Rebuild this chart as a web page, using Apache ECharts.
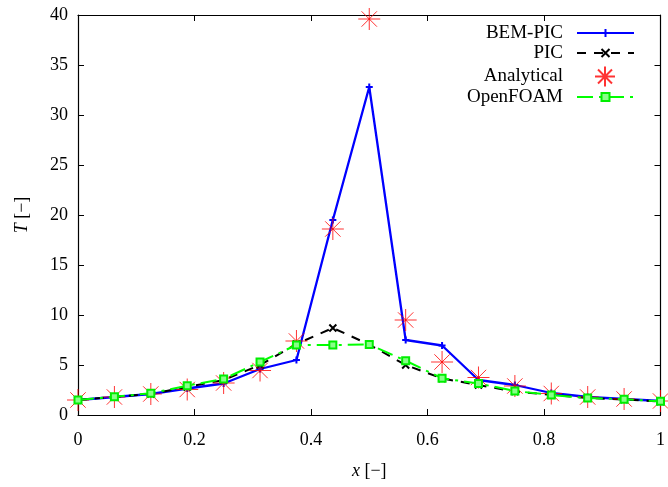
<!DOCTYPE html>
<html>
<head>
<meta charset="utf-8">
<script src="https://cdn.jsdelivr.net/npm/echarts@6/dist/echarts.min.js"></script>
<style>html,body{margin:0;padding:0;background:#fff}#c{width:668px;height:487px}</style>
</head>
<body>
<div id="c"></div>
<script>
var xValues = [0, 0.0625, 0.125, 0.1875, 0.25, 0.3125, 0.375, 0.4375, 0.5, 0.5625, 0.625, 0.6875, 0.75, 0.8125, 0.875, 0.9375, 1.0];
var bemPic = [1.5, 1.8, 2.1, 2.65, 3.15, 4.6, 5.5, 19.5, 32.8, 7.5, 6.95, 3.5, 3.0, 2.2, 1.8, 1.6, 1.4];
var pic = [1.5, 1.8, 2.1, 2.8, 3.5, 5.0, 7.1, 8.7, 7.05, 5.0, 3.65, 3.0, 2.35, 2.0, 1.7, 1.55, 1.35];
var analytical = [1.5, 1.8, 2.1, 2.55, 3.2, 4.45, 7.4, 18.6, 39.6, 9.5, 5.3, 3.75, 2.9, 2.15, 1.8, 1.6, 1.4];
var openFoam = [1.5, 1.83, 2.17, 2.93, 3.6, 5.3, 7.0, 7.0, 7.05, 5.43, 3.67, 3.15, 2.4, 2.0, 1.7, 1.57, 1.37];
var xTicks = [0, 0.2, 0.4, 0.6, 0.8, 1];
var yTicks = [0, 5, 10, 15, 20, 25, 30, 35, 40];
var seriesNames = ['BEM-PIC', 'PIC', 'Analytical', 'OpenFOAM'];

function pairs(ys) { return xValues.map(function (x, i) { return [x, ys[i]]; }); }

var FONT = 'Liberation Serif';
var chart = echarts.init(document.getElementById('c'));

function axisBase(extra) {
  var a = {
    type: 'value',
    axisLine: { show: true, onZero: false, lineStyle: { color: '#000', width: 1.2 } },
    axisTick: { show: true, inside: true, length: 6, lineStyle: { color: '#000', width: 1 } },
    splitLine: { show: false },
    axisLabel: { color: '#000', fontFamily: FONT, fontSize: 18 }
  };
  for (var k in extra) a[k] = extra[k];
  return a;
}

var legendCenters = [33, 53, 75.5, 97];
var legends = seriesNames.map(function (n, i) {
  var star = (i === 2);
  return {
    orient: 'vertical',
    align: 'right',
    right: star ? 52 : 33,
    top: legendCenters[i] - 10,
    padding: 0,
    itemGap: 0,
    itemWidth: star ? 20 : 57,
    itemHeight: star ? 20 : 10,
    textStyle: { color: '#000', fontFamily: FONT, fontSize: 19, lineHeight: 20, padding: [0, star ? 27 : 9, 0, 0] },
    data: [n]
  };
});

var option = {
  animation: false,
  backgroundColor: '#fff',
  textStyle: { fontFamily: FONT },
  grid: { left: 78, right: 7, top: 15, bottom: 72, containLabel: false },
  xAxis: [
    axisBase({
      min: 0, max: 1, interval: 0.2, position: 'bottom',
      axisLabel: { color: '#000', fontFamily: FONT, fontSize: 18, margin: 16,
        formatter: function (v) { return xTicks.indexOf(+v.toFixed(2)) >= 0 ? String(+v.toFixed(2)) : ''; } },
      name: '{i|x} [−]', nameLocation: 'middle', nameGap: 47,
      nameTextStyle: { color: '#000', fontFamily: FONT, fontSize: 18,
        rich: { i: { fontStyle: 'italic', fontFamily: FONT, fontSize: 18, color: '#000' } } }
    }),
    axisBase({ min: 0, max: 1, interval: 0.2, position: 'top', axisLabel: { show: false } })
  ],
  yAxis: [
    axisBase({
      min: 0, max: 40, interval: 5, position: 'left',
      axisLabel: { color: '#000', fontFamily: FONT, fontSize: 18, margin: 10,
        formatter: function (v) { return yTicks.indexOf(v) >= 0 ? String(v) : ''; } },
      name: '{i|T} [−]', nameLocation: 'middle', nameGap: 47, nameRotate: 90,
      nameTextStyle: { color: '#000', fontFamily: FONT, fontSize: 18,
        rich: { i: { fontStyle: 'italic', fontFamily: FONT, fontSize: 18, color: '#000' } } }
    }),
    axisBase({ min: 0, max: 40, interval: 5, position: 'right', axisLabel: { show: false } })
  ],
  legend: legends,
  series: [
    {
      name: seriesNames[0], type: 'line', data: pairs(bemPic),
      symbol: 'path://M5 0L5 10M0 5L10 5', symbolSize: 7,
      itemStyle: { color: '#0000ff', borderColor: '#0000ff', borderWidth: 2 },
      lineStyle: { color: '#0000ff', width: 2.3 }, z: 2
    },
    {
      name: seriesNames[1], type: 'line', data: pairs(pic),
      symbol: 'path://M0 0L10 10M0 10L10 0', symbolSize: 7,
      itemStyle: { color: '#000', borderColor: '#000', borderWidth: 2 },
      lineStyle: { color: '#000', width: 2, type: [9, 8] }, z: 3
    },
    {
      name: seriesNames[2], type: 'scatter', data: pairs(analytical),
      symbol: 'path://M10 0L10 20M0 10L20 10M3 3L17 17M3 17L17 3', symbolSize: 22,
      itemStyle: { color: 'rgba(0,0,0,0)', borderColor: '#ff0000', borderWidth: 1 }, z: 4
    },
    {
      name: seriesNames[3], type: 'line', data: pairs(openFoam),
      symbol: 'rect', symbolSize: 7,
      itemStyle: { color: '#88ff88', borderColor: '#00ee00', borderWidth: 2 },
      lineStyle: { color: '#00ff00', width: 2, type: [16, 6, 3, 6] }, z: 5
    }
  ]
};
chart.setOption(option);
</script>
</body>
</html>
